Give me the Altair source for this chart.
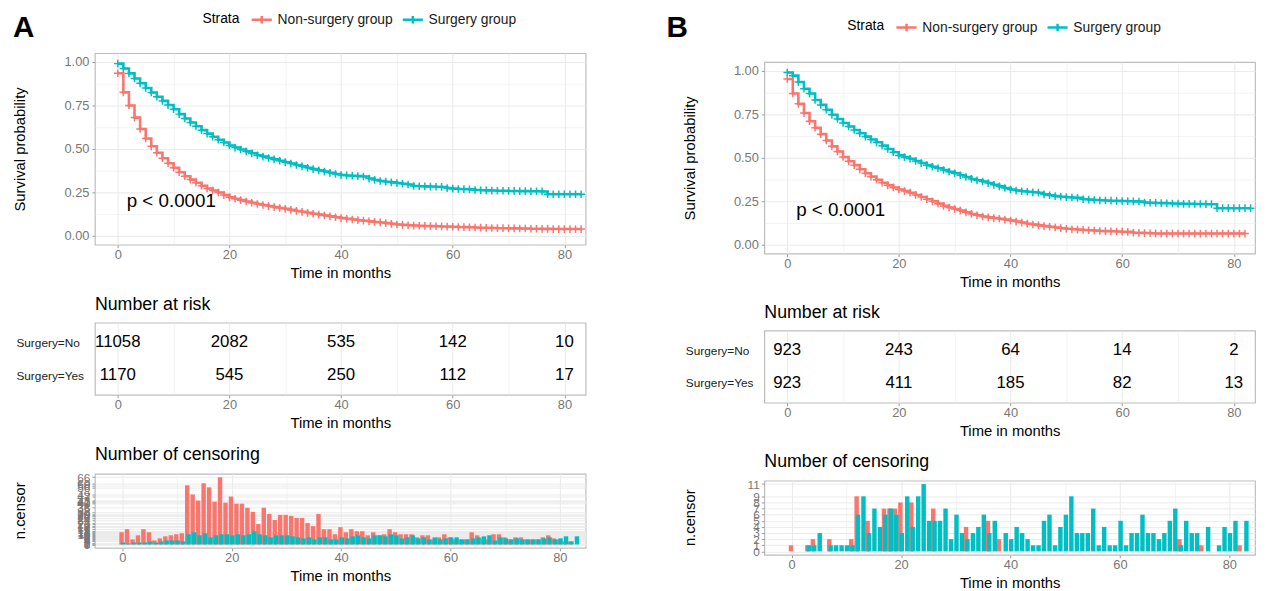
import altair as alt
import pandas as pd

# ---------------- data ----------------
MONTHS = list(range(84))
GROUPS = ["Non-surgery group", "Surgery group"]
ROWS = ["Surgery=No", "Surgery=Yes"]
RISK_TIMES = [0, 20, 40, 60, 80]
P_TEXT = "p < 0.0001"
P_AT = [1.6, 0.2]

A_NON_SURV = [0.935, 0.825, 0.75, 0.68, 0.615, 0.56, 0.515, 0.478, 0.447, 0.418,
              0.392, 0.366, 0.343, 0.324, 0.306, 0.289, 0.273, 0.261, 0.25, 0.235,
              0.222, 0.214, 0.206, 0.198, 0.191, 0.184, 0.178, 0.172, 0.166, 0.161,
              0.156, 0.15, 0.144, 0.139, 0.133, 0.128, 0.123, 0.118, 0.113, 0.108,
              0.103, 0.099, 0.095, 0.091, 0.088, 0.084, 0.081, 0.078, 0.074, 0.07,
              0.066, 0.064, 0.062, 0.06, 0.059, 0.058, 0.057, 0.056, 0.055, 0.054,
              0.053, 0.052, 0.051, 0.05, 0.049, 0.048, 0.047, 0.046, 0.045, 0.045,
              0.044, 0.044, 0.043, 0.043, 0.042, 0.042, 0.041, 0.041, 0.04, 0.04,
              0.04, 0.04, 0.04, 0.04]
A_SURG_SURV = [0.99, 0.962, 0.934, 0.905, 0.877, 0.85, 0.824, 0.8, 0.776, 0.752,
               0.728, 0.7, 0.675, 0.652, 0.63, 0.608, 0.588, 0.57, 0.553, 0.537,
               0.52, 0.508, 0.497, 0.486, 0.475, 0.464, 0.456, 0.448, 0.44, 0.432,
               0.424, 0.416, 0.408, 0.4, 0.392, 0.384, 0.377, 0.37, 0.363, 0.356,
               0.35, 0.348, 0.346, 0.344, 0.342, 0.33, 0.322, 0.316, 0.312, 0.308,
               0.304, 0.3, 0.296, 0.287, 0.286, 0.285, 0.284, 0.283, 0.282, 0.275,
               0.272, 0.27, 0.269, 0.268, 0.264, 0.263, 0.262, 0.261, 0.26, 0.26,
               0.259, 0.259, 0.258, 0.258, 0.257, 0.257, 0.256, 0.24, 0.24, 0.24,
               0.24, 0.24, 0.24, 0.24]
B_NON_SURV = [0.953, 0.87, 0.81, 0.757, 0.71, 0.673, 0.636, 0.6, 0.566, 0.536,
              0.505, 0.48, 0.458, 0.434, 0.411, 0.392, 0.374, 0.357, 0.342, 0.33,
              0.318, 0.309, 0.3, 0.287, 0.275, 0.262, 0.25, 0.237, 0.224, 0.215,
              0.206, 0.197, 0.187, 0.178, 0.17, 0.163, 0.158, 0.154, 0.15, 0.145,
              0.14, 0.134, 0.128, 0.122, 0.117, 0.112, 0.108, 0.104, 0.1, 0.096,
              0.093, 0.09, 0.088, 0.086, 0.084, 0.082, 0.08, 0.079, 0.078, 0.077,
              0.076, 0.075, 0.07, 0.069, 0.068, 0.067, 0.066, 0.065, 0.065, 0.065,
              0.065, 0.065, 0.065, 0.065, 0.065, 0.065, 0.065, 0.065, 0.065, 0.065,
              0.065, 0.065, 0.065]
B_SURG_SURV = [0.99, 0.972, 0.935, 0.897, 0.87, 0.832, 0.804, 0.776, 0.747, 0.723,
               0.7, 0.68, 0.66, 0.641, 0.622, 0.605, 0.589, 0.57, 0.551, 0.532,
               0.514, 0.504, 0.495, 0.482, 0.47, 0.458, 0.449, 0.44, 0.43, 0.42,
               0.411, 0.4, 0.39, 0.379, 0.371, 0.364, 0.355, 0.345, 0.336, 0.327,
               0.318, 0.312, 0.308, 0.305, 0.302, 0.3, 0.29, 0.285, 0.28, 0.277,
               0.274, 0.272, 0.27, 0.262, 0.26, 0.258, 0.256, 0.255, 0.254, 0.253,
               0.252, 0.251, 0.25, 0.249, 0.243, 0.242, 0.241, 0.24, 0.239, 0.238,
               0.237, 0.236, 0.236, 0.235, 0.235, 0.234, 0.234, 0.211, 0.211, 0.211,
               0.211, 0.211, 0.211, 0.211]

A_RISK_NO = [11058, 2082, 535, 142, 10]
A_RISK_YES = [1170, 545, 250, 112, 17]
B_RISK_NO = [923, 243, 64, 14, 2]
B_RISK_YES = [923, 411, 185, 82, 13]

A_CENS_NON = [12, 15, 5, 9, 15, 12, 4, 6, 8, 9,
              10, 11, 58, 49, 43, 60, 56, 42, 66, 41,
              47, 40, 40, 36, 32, 20, 36, 30, 24, 29,
              29, 28, 26, 26, 21, 18, 30, 15, 15, 10,
              17, 12, 15, 13, 13, 9, 12, 9, 10, 15,
              12, 10, 10, 10, 7, 9, 9, 5, 7, 10,
              7, 5, 5, 5, 12, 9, 6, 5, 10, 10,
              7, 5, 7, 7, 5, 5, 5, 7, 9, 6,
              5, 3, 3, 0]
A_CENS_SURG = [2, 1, 2, 2, 2, 3, 2, 3, 4, 4,
               4, 3, 10, 12, 9, 11, 7, 9, 10, 10,
               9, 10, 9, 10, 13, 10, 9, 7, 9, 9,
               9, 8, 7, 6, 7, 5, 7, 7, 5, 5,
               7, 6, 8, 9, 7, 6, 9, 9, 8, 10,
               9, 6, 7, 9, 6, 7, 5, 7, 5, 6,
               7, 7, 5, 5, 6, 7, 8, 9, 4, 7,
               6, 5, 6, 5, 5, 5, 5, 6, 7, 5,
               6, 8, 3, 8]
B_CENS_NON = [1, 0, 0, 1, 2, 0, 0, 2, 0, 0,
              0, 2, 9, 0, 5, 0, 0, 7, 7, 7,
              8, 0, 8, 0, 0, 0, 7, 0, 0, 0,
              0, 0, 4, 0, 0, 0, 5, 0, 2, 0,
              0, 0, 0, 0, 0, 0, 0, 0, 0, 0,
              0, 0, 0, 0, 0, 0, 0, 0, 0, 0,
              0, 0, 0, 0, 0, 0, 0, 0, 0, 0,
              0, 2, 0, 0, 0, 1, 0, 0, 0, 0,
              0, 0, 1, 0]
B_CENS_SURG = [0, 0, 0, 1, 1, 3, 0, 1, 1, 1,
               1, 1, 6, 9, 3, 7, 4, 6, 7, 6,
               3, 9, 4, 9, 11, 5, 5, 5, 7, 2,
               6, 3, 2, 3, 4, 6, 3, 5, 0, 3,
               2, 4, 3, 2, 1, 1, 5, 6, 1, 4,
               6, 9, 3, 3, 3, 7, 1, 4, 1, 1,
               5, 1, 3, 3, 6, 3, 3, 2, 3, 5,
               7, 1, 5, 3, 3, 0, 4, 0, 1, 4,
               3, 5, 0, 5]

# ---------------- styling ----------------
RED, CYAN = "#F8766D", "#00BFC4"
FONT = "Liberation Sans"
W = 497
XDOM = [-4.1, 83.8]
PLUS = "M-1,0L1,0M0,-1L0,1"
LEG_SYMBOL = "M-1.2,0L1.2,0M0,-0.45L0,0.45"
MAJOR_X = "datum.value % 20 == 0"

color_scale = alt.Scale(domain=GROUPS, range=[RED, CYAN])
x_scale = alt.Scale(domain=XDOM, nice=False, zero=False)


def x_axis():
    return alt.Axis(values=list(range(0, 81, 10)), title="Time in months",
                    labelExpr=f"{MAJOR_X} ? datum.label : ''",
                    tickOpacity={"condition": {"test": MAJOR_X, "value": 1}, "value": 0},
                    gridWidth={"condition": {"test": MAJOR_X, "value": 1.1}, "value": 0.6},
                    labelFlush=False, labelPadding=1, titlePadding=4)


def header(tag, height, tag_x, tag_y, legend_x, legend_y):
    """Panel letter and the Strata legend, in a strip above the survival plot."""
    letter = alt.Chart(pd.DataFrame({"tag": [tag]})).mark_text(
        align="left", baseline="top", fontSize=30, fontWeight="bold", font=FONT, color="black"
    ).encode(text="tag:N", x=alt.value(tag_x), y=alt.value(tag_y))
    legend = alt.Legend(title="Strata", orient="none", legendX=legend_x, legendY=legend_y,
                        direction="horizontal", titleOrient="left",
                        symbolType=LEG_SYMBOL, symbolSize=289, symbolStrokeWidth=2.5, symbolOpacity=1,
                        labelFontSize=14, titleFontSize=14, titleFontWeight="normal",
                        labelFont=FONT, titleFont=FONT, labelColor="#1a1a1a", titleColor="black",
                        labelOffset=6, columnPadding=4, titlePadding=12)
    carrier = alt.Chart(pd.DataFrame({"strata": GROUPS})).mark_point(filled=False, opacity=0).encode(
        color=alt.Color("strata:N", scale=color_scale, legend=legend))
    return alt.layer(letter, carrier).properties(
        width=W, height=height, view=alt.ViewBackground(strokeOpacity=0))


def surv_chart(non, surg):
    df = pd.DataFrame({
        "month": MONTHS[:len(non)] + MONTHS[:len(surg)],
        "surv": non + surg,
        "strata": [GROUPS[0]] * len(non) + [GROUPS[1]] * len(surg),
    })
    major_y = "(datum.value * 8) % 2 == 0"
    x = alt.X("month:Q", scale=x_scale, axis=x_axis())
    y = alt.Y("surv:Q", scale=alt.Scale(domain=[-0.05, 1.05], nice=False, zero=False),
              axis=alt.Axis(values=[i / 8 for i in range(9)], title="Survival probability",
                            labelExpr=f"{major_y} ? format(datum.value, '.2f') : ''",
                            tickOpacity={"condition": {"test": major_y, "value": 1}, "value": 0},
                            gridWidth={"condition": {"test": major_y, "value": 1.1}, "value": 0.6},
                            titleX=-68, titleY=97, labelPadding=3))
    color = alt.Color("strata:N", scale=color_scale, legend=None)
    line = alt.Chart(df).mark_line(interpolate="step-after", strokeWidth=2.6).encode(x=x, y=y, color=color)
    pts = alt.Chart(df).mark_point(shape=PLUS, size=60, filled=False, strokeWidth=1.5, opacity=1).encode(
        x=x, y=y, color=color)
    ptxt = alt.Chart(pd.DataFrame({"month": [P_AT[0]], "surv": [P_AT[1]], "label": [P_TEXT]})).mark_text(
        align="left", baseline="middle", fontSize=19, font=FONT, color="black").encode(
        x=x, y=y, text="label:N")
    return alt.layer(pts, line, ptxt).properties(width=W, height=194)


def risk_chart(no_vals, yes_vals):
    df = pd.DataFrame({
        "month": RISK_TIMES * 2,
        "row": [ROWS[0]] * len(no_vals) + [ROWS[1]] * len(yes_vals),
        "n": [str(v) for v in no_vals + yes_vals],
    })
    return alt.Chart(df).mark_text(fontSize=17, font=FONT, color="black").encode(
        x=alt.X("month:Q", scale=x_scale, axis=x_axis()),
        y=alt.Y("row:N", scale=alt.Scale(type="point", domain=ROWS, padding=0.6),
                axis=alt.Axis(title=None, labelAlign="left", labelPadding=80, ticks=False, tickSize=0,
                              labelFontSize=12, labelColor="#222222")),
        text="n:N",
    ).properties(width=W, height=73,
                 title=alt.TitleParams("Number at risk", anchor="start", frame="group", fontSize=18,
                                       fontWeight="normal", font=FONT, color="black", offset=9))


def censor_chart(non, surg):
    df = pd.DataFrame({
        "month": MONTHS * 2,
        "n": non + surg,
        "strata": [GROUPS[0]] * len(non) + [GROUPS[1]] * len(surg),
    })
    ticks = sorted(set(non + surg))
    top = max(ticks)
    x = alt.X("month:Q", scale=x_scale, axis=x_axis())
    y = alt.Y("n:Q", scale=alt.Scale(domain=[-0.05 * top, 1.05 * top], nice=False, zero=False),
              axis=alt.Axis(values=ticks, title="n.censor", labelOverlap=False, labelBound=False,
                            labelFontSize=12, titleX=-68, titleY=37, titleFontSize=15, labelPadding=2))
    color = alt.Color("strata:N", scale=color_scale, legend=None)
    red = alt.Chart(df).transform_filter(alt.datum.strata == GROUPS[0]).mark_bar(size=4.5, xOffset=-0.7).encode(
        x=x, y=y, y2=alt.datum(0), color=color)
    cyan = alt.Chart(df).transform_filter(alt.datum.strata == GROUPS[1]).mark_bar(size=4.5, xOffset=0.7).encode(
        x=x, y=y, y2=alt.datum(0), color=color)
    return alt.layer(red, cyan).properties(
        width=W, height=75,
        title=alt.TitleParams("Number of censoring", anchor="start", frame="group", fontSize=18,
                              fontWeight="normal", font=FONT, color="black", offset=7))


def column(head, surv, risk, cens, spacing):
    body = alt.vconcat(surv, risk, cens, spacing=spacing).resolve_legend(color="independent")
    return alt.vconcat(head, body, spacing=8).resolve_legend(color="independent")


col_a = column(header("A", 36, -83, 5, 109, 1),
               surv_chart(A_NON_SURV, A_SURG_SURV),
               risk_chart(A_RISK_NO, A_RISK_YES),
               censor_chart(A_CENS_NON, A_CENS_SURG), 14)
col_b = column(header("B", 45, -99, 5, 84, 9),
               surv_chart(B_NON_SURV, B_SURG_SURV),
               risk_chart(B_RISK_NO, B_RISK_YES),
               censor_chart(B_CENS_NON, B_CENS_SURG), 13)

chart = alt.hconcat(col_a, col_b, spacing=79).resolve_legend(color="independent").properties(
    padding={"left": 4, "top": -3, "right": 0, "bottom": 0}
).configure(font=FONT).configure_view(
    stroke="#BDBDBD", strokeWidth=1.2
).configure_axis(
    labelFont=FONT, labelFontSize=13, labelColor="#777777",
    titleFont=FONT, titleFontSize=15, titleFontWeight="normal", titleColor="black",
    gridColor="#EBEBEB", domain=False, tickColor="#999999", tickSize=3,
)

chart.save("out.html", embed_options={"renderer": "svg", "actions": False})
